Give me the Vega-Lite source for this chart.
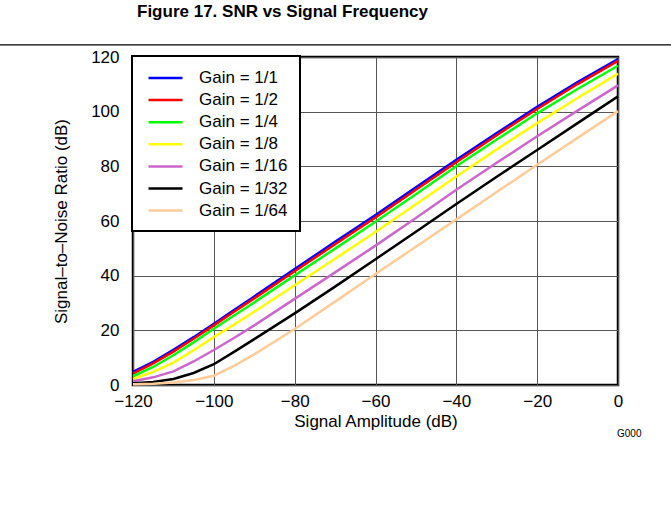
{
  "$schema": "https://vega.github.io/schema/vega-lite/v6.json",
  "width": 485,
  "height": 328,
  "autosize": {"type": "none"},
  "padding": {"left": 133, "top": 57, "right": 53, "bottom": 129},
  "background": "white",
  "title": {
    "text": "Figure 17. SNR vs Signal Frequency",
    "font": "Liberation Sans",
    "fontSize": 17,
    "fontWeight": "bold",
    "color": "black",
    "anchor": "middle",
    "frame": "group",
    "dx": -93,
    "offset": 23
  },
  "config": {
    "font": "Liberation Sans",
    "view": {"stroke": "black", "strokeWidth": 2.5},
    "axis": {
      "domain": false,
      "ticks": false,
      "grid": true,
      "gridColor": "#555555",
      "gridWidth": 1,
      "labelFont": "Liberation Sans",
      "labelFontSize": 17,
      "labelColor": "black",
      "titleFont": "Liberation Sans",
      "titleFontSize": 17,
      "titleFontWeight": "normal",
      "titleColor": "black",
      "labelFlush": false,
      "labelOverlap": false
    },
    "legend": {
      "orient": "top-left",
      "offset": -1,
      "padding": 12,
      "fillColor": "white",
      "strokeColor": "black",
      "strokeWidth": 2,
      "symbolType": "M-2,0H2",
      "symbolSize": 289,
      "symbolStrokeWidth": 2.5,
      "symbolOffset": 11.5,
      "labelFont": "Liberation Sans",
      "labelFontSize": 17,
      "labelColor": "black",
      "labelOffset": 23.5,
      "rowPadding": 4.1
    }
  },
  "datasets": {
    "snr": [
      {"g": "Gain = 1/1", "x": -120, "snr": 4.8}, {"g": "Gain = 1/1", "x": -115, "snr": 8.5}, {"g": "Gain = 1/1", "x": -110, "snr": 12.9}, {"g": "Gain = 1/1", "x": -105, "snr": 17.5}, {"g": "Gain = 1/1", "x": -100, "snr": 22.4}, {"g": "Gain = 1/1", "x": -95, "snr": 27.4}, {"g": "Gain = 1/1", "x": -90, "snr": 32.4}, {"g": "Gain = 1/1", "x": -80, "snr": 42.4}, {"g": "Gain = 1/1", "x": -70, "snr": 52.4}, {"g": "Gain = 1/1", "x": -60, "snr": 62.2}, {"g": "Gain = 1/1", "x": -50, "snr": 72.3}, {"g": "Gain = 1/1", "x": -40, "snr": 82.4}, {"g": "Gain = 1/1", "x": -30, "snr": 92.2}, {"g": "Gain = 1/1", "x": -20, "snr": 101.8}, {"g": "Gain = 1/1", "x": -10, "snr": 110.8}, {"g": "Gain = 1/1", "x": 0, "snr": 119.2},
      {"g": "Gain = 1/2", "x": -120, "snr": 4.2}, {"g": "Gain = 1/2", "x": -115, "snr": 7.9}, {"g": "Gain = 1/2", "x": -110, "snr": 12.2}, {"g": "Gain = 1/2", "x": -105, "snr": 16.9}, {"g": "Gain = 1/2", "x": -100, "snr": 21.8}, {"g": "Gain = 1/2", "x": -95, "snr": 26.8}, {"g": "Gain = 1/2", "x": -90, "snr": 31.7}, {"g": "Gain = 1/2", "x": -80, "snr": 41.6}, {"g": "Gain = 1/2", "x": -70, "snr": 51.5}, {"g": "Gain = 1/2", "x": -60, "snr": 61.3}, {"g": "Gain = 1/2", "x": -50, "snr": 71.4}, {"g": "Gain = 1/2", "x": -40, "snr": 81.5}, {"g": "Gain = 1/2", "x": -30, "snr": 91.4}, {"g": "Gain = 1/2", "x": -20, "snr": 101.0}, {"g": "Gain = 1/2", "x": -10, "snr": 110.1}, {"g": "Gain = 1/2", "x": 0, "snr": 118.6},
      {"g": "Gain = 1/4", "x": -120, "snr": 3.2}, {"g": "Gain = 1/4", "x": -115, "snr": 6.6}, {"g": "Gain = 1/4", "x": -110, "snr": 10.9}, {"g": "Gain = 1/4", "x": -105, "snr": 15.6}, {"g": "Gain = 1/4", "x": -100, "snr": 20.6}, {"g": "Gain = 1/4", "x": -95, "snr": 25.4}, {"g": "Gain = 1/4", "x": -90, "snr": 30.2}, {"g": "Gain = 1/4", "x": -80, "snr": 40.1}, {"g": "Gain = 1/4", "x": -70, "snr": 49.9}, {"g": "Gain = 1/4", "x": -60, "snr": 59.7}, {"g": "Gain = 1/4", "x": -50, "snr": 69.8}, {"g": "Gain = 1/4", "x": -40, "snr": 80.0}, {"g": "Gain = 1/4", "x": -30, "snr": 89.8}, {"g": "Gain = 1/4", "x": -20, "snr": 99.4}, {"g": "Gain = 1/4", "x": -10, "snr": 108.3}, {"g": "Gain = 1/4", "x": 0, "snr": 116.8},
      {"g": "Gain = 1/8", "x": -120, "snr": 2.2}, {"g": "Gain = 1/8", "x": -115, "snr": 4.8}, {"g": "Gain = 1/8", "x": -110, "snr": 8.2}, {"g": "Gain = 1/8", "x": -105, "snr": 12.7}, {"g": "Gain = 1/8", "x": -100, "snr": 17.5}, {"g": "Gain = 1/8", "x": -95, "snr": 22.1}, {"g": "Gain = 1/8", "x": -90, "snr": 26.8}, {"g": "Gain = 1/8", "x": -80, "snr": 36.5}, {"g": "Gain = 1/8", "x": -70, "snr": 46.2}, {"g": "Gain = 1/8", "x": -60, "snr": 56.0}, {"g": "Gain = 1/8", "x": -50, "snr": 66.1}, {"g": "Gain = 1/8", "x": -40, "snr": 76.3}, {"g": "Gain = 1/8", "x": -30, "snr": 86.2}, {"g": "Gain = 1/8", "x": -20, "snr": 95.8}, {"g": "Gain = 1/8", "x": -10, "snr": 105.0}, {"g": "Gain = 1/8", "x": 0, "snr": 113.9},
      {"g": "Gain = 1/16", "x": -120, "snr": 1.4}, {"g": "Gain = 1/16", "x": -115, "snr": 2.8}, {"g": "Gain = 1/16", "x": -110, "snr": 5.0}, {"g": "Gain = 1/16", "x": -105, "snr": 8.6}, {"g": "Gain = 1/16", "x": -100, "snr": 12.8}, {"g": "Gain = 1/16", "x": -95, "snr": 17.2}, {"g": "Gain = 1/16", "x": -90, "snr": 21.8}, {"g": "Gain = 1/16", "x": -80, "snr": 31.5}, {"g": "Gain = 1/16", "x": -70, "snr": 41.2}, {"g": "Gain = 1/16", "x": -60, "snr": 51.0}, {"g": "Gain = 1/16", "x": -50, "snr": 61.1}, {"g": "Gain = 1/16", "x": -40, "snr": 71.4}, {"g": "Gain = 1/16", "x": -30, "snr": 81.3}, {"g": "Gain = 1/16", "x": -20, "snr": 91.0}, {"g": "Gain = 1/16", "x": -10, "snr": 100.4}, {"g": "Gain = 1/16", "x": 0, "snr": 109.6},
      {"g": "Gain = 1/32", "x": -120, "snr": 0.6}, {"g": "Gain = 1/32", "x": -115, "snr": 1.1}, {"g": "Gain = 1/32", "x": -110, "snr": 2.2}, {"g": "Gain = 1/32", "x": -105, "snr": 4.4}, {"g": "Gain = 1/32", "x": -100, "snr": 7.6}, {"g": "Gain = 1/32", "x": -95, "snr": 12.1}, {"g": "Gain = 1/32", "x": -90, "snr": 16.8}, {"g": "Gain = 1/32", "x": -80, "snr": 26.2}, {"g": "Gain = 1/32", "x": -70, "snr": 36.0}, {"g": "Gain = 1/32", "x": -60, "snr": 46.0}, {"g": "Gain = 1/32", "x": -50, "snr": 56.1}, {"g": "Gain = 1/32", "x": -40, "snr": 66.2}, {"g": "Gain = 1/32", "x": -30, "snr": 76.2}, {"g": "Gain = 1/32", "x": -20, "snr": 86.0}, {"g": "Gain = 1/32", "x": -10, "snr": 95.8}, {"g": "Gain = 1/32", "x": 0, "snr": 105.6},
      {"g": "Gain = 1/64", "x": -120, "snr": 0.3}, {"g": "Gain = 1/64", "x": -115, "snr": 0.5}, {"g": "Gain = 1/64", "x": -110, "snr": 0.9}, {"g": "Gain = 1/64", "x": -105, "snr": 1.8}, {"g": "Gain = 1/64", "x": -100, "snr": 3.4}, {"g": "Gain = 1/64", "x": -95, "snr": 7.0}, {"g": "Gain = 1/64", "x": -90, "snr": 11.2}, {"g": "Gain = 1/64", "x": -80, "snr": 20.5}, {"g": "Gain = 1/64", "x": -70, "snr": 30.5}, {"g": "Gain = 1/64", "x": -60, "snr": 40.6}, {"g": "Gain = 1/64", "x": -50, "snr": 50.6}, {"g": "Gain = 1/64", "x": -40, "snr": 60.6}, {"g": "Gain = 1/64", "x": -30, "snr": 70.6}, {"g": "Gain = 1/64", "x": -20, "snr": 80.6}, {"g": "Gain = 1/64", "x": -10, "snr": 90.4}, {"g": "Gain = 1/64", "x": 0, "snr": 100.2}
    ]
  },
  "layer": [
    {
      "data": {"name": "snr"},
      "mark": {"type": "line", "strokeWidth": 2.5},
      "encoding": {
        "x": {
          "field": "x",
          "type": "quantitative",
          "scale": {"domain": [-120, 0], "nice": false, "zero": false},
          "axis": {
            "title": "Signal Amplitude (dB)",
            "values": [-120, -100, -80, -60, -40, -20, 0],
            "labelPadding": 8,
            "titlePadding": 4
          }
        },
        "y": {
          "field": "snr",
          "type": "quantitative",
          "scale": {"domain": [0, 120], "nice": false, "zero": false},
          "axis": {
            "title": "Signal–to–Noise Ratio (dB)",
            "values": [0, 20, 40, 60, 80, 100, 120],
            "labelPadding": 14,
            "titlePadding": 20
          }
        },
        "color": {
          "field": "g",
          "type": "nominal",
          "title": null,
          "scale": {
            "domain": ["Gain = 1/1", "Gain = 1/2", "Gain = 1/4", "Gain = 1/8", "Gain = 1/16", "Gain = 1/32", "Gain = 1/64"],
            "range": ["#0000ff", "#ff0000", "#00ff00", "#ffff00", "#cc66cc", "#000000", "#ffcc99"]
          }
        }
      }
    },
    {
      "data": {"values": [{}]},
      "mark": {"type": "rule", "clip": false, "color": "black", "strokeWidth": 1.3},
      "encoding": {
        "x": {"datum": -155},
        "x2": {"datum": 15},
        "y": {"datum": 124.4}
      }
    },
    {
      "data": {"values": [{}]},
      "mark": {"type": "text", "clip": false, "align": "left", "baseline": "alphabetic", "fontSize": 10, "font": "Liberation Sans", "color": "black", "dx": -1},
      "encoding": {
        "x": {"datum": 0},
        "y": {"datum": -18.9},
        "text": {"value": "G000"}
      }
    }
  ]
}
